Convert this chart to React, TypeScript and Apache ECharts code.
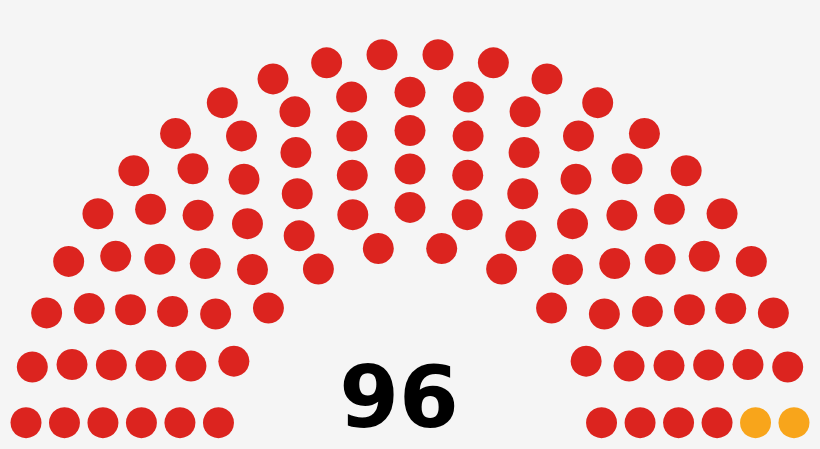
import React, { useEffect, useRef } from "react";
import * as echarts from "echarts";

// Seat data
const parties = ["Majority party", "Minor party"];
const seats = [94, 2];
const partyColors = ["#dc241f", "#f8a51b"];
// Seats per row, inner row first
const rowSeats = [10, 13, 15, 17, 19, 22];
const totalLabel = "96";

function buildSeats() {
  const rows = rowSeats.length;
  const dotR = 0.4 / rows;
  const pts: { r: number; a: number }[] = [];
  rowSeats.forEach((J, k) => {
    const i = k + 1;
    const R = (3 * rows + 4 * i - 2) / (4 * rows);
    const off = Math.sin(dotR / R);
    for (let j = 0; j < J; j++) {
      const a = J === 1 ? Math.PI / 2 : (j * (Math.PI - 2 * off)) / (J - 1) + off;
      pts.push({ r: R, a: (a * 180) / Math.PI });
    }
  });
  pts.sort((p, q) => q.a - p.a);
  const out: number[][][] = parties.map(() => []);
  let idx = 0;
  seats.forEach((n, p) => {
    for (let s = 0; s < n; s++) {
      const pt = pts[idx++];
      if (pt) out[p].push([pt.r, pt.a]);
    }
  });
  return out;
}

export default function App() {
  const ref = useRef<HTMLDivElement>(null);
  useEffect(() => {
    if (!ref.current) return;
    const chart = echarts.init(ref.current, undefined, { renderer: "svg" });
    const data = buildSeats();
    chart.setOption({
      animation: false,
      backgroundColor: "#f5f5f5",
      polar: { center: [410, 438], radius: 384.3 },
      radiusAxis: { type: "value", min: 0, max: 5 / 3, show: false },
      angleAxis: {
        type: "value",
        min: 0,
        max: 360,
        startAngle: 0,
        clockwise: false,
        show: false,
      },
      series: parties.map((name, p) => ({
        type: "scatter",
        name,
        coordinateSystem: "polar",
        symbol: "circle",
        symbolSize: 31,
        itemStyle: { color: partyColors[p], opacity: 1 },
        data: data[p],
        silent: true,
      })),
      graphic: [
        {
          type: "text",
          x: 399,
          y: 397,
          style: {
            text: totalLabel,
            fontFamily: "DejaVu Sans",
            fontWeight: "bold",
            fontSize: 86,
            fill: "#000",
            align: "center",
            verticalAlign: "middle",
          },
        },
      ],
    });
    return () => chart.dispose();
  }, []);
  return (
    <div
      ref={ref}
      style={{ position: "fixed", left: 0, top: 0, width: 820, height: 449 }}
    />
  );
}
